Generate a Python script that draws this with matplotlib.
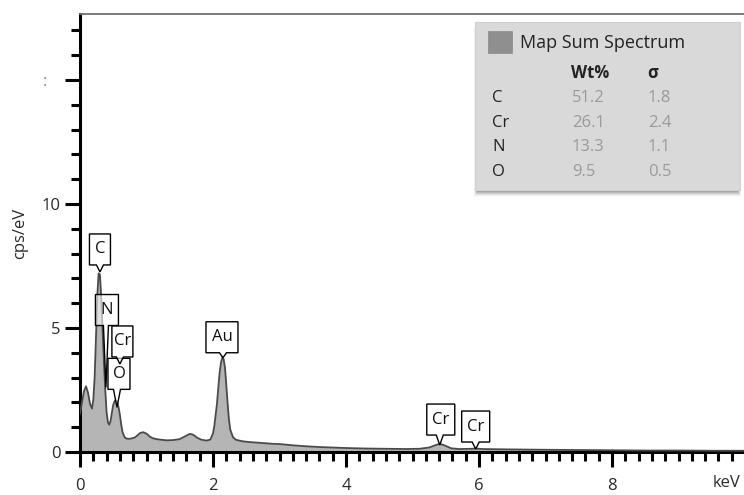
import matplotlib
matplotlib.use("Agg")
import matplotlib.pyplot as plt
from matplotlib.patches import Polygon, Rectangle
import numpy as np

plt.rcParams['font.family'] = ['Open Sans', 'DejaVu Sans']

# ---- spectrum ----
energy_keV = [0.00, 0.03, 0.06, 0.09, 0.12, 0.15, 0.18, 0.20, 0.22, 0.24, 0.26, 0.28, 0.30,
              0.32, 0.34, 0.36, 0.38, 0.40, 0.42, 0.44, 0.46, 0.48, 0.50, 0.52, 0.54, 0.56,
              0.58, 0.60, 0.62, 0.64, 0.67, 0.70, 0.74, 0.78, 0.82, 0.86, 0.90, 0.95, 1.00,
              1.05, 1.10, 1.15, 1.20, 1.30, 1.40, 1.50, 1.58, 1.65, 1.70, 1.76, 1.82, 1.90,
              1.96, 2.00, 2.02, 2.04, 2.06, 2.08, 2.10, 2.12, 2.14, 2.16, 2.18, 2.20, 2.22,
              2.24, 2.26, 2.30, 2.34, 2.38, 2.45, 2.55, 2.65, 2.75, 2.90, 3.00, 3.20, 3.40,
              3.60, 3.80, 4.00, 4.30, 4.60, 4.90, 5.10, 5.25, 5.35, 5.41, 5.48, 5.58, 5.70,
              5.90, 5.95, 6.05, 6.30, 6.60, 7.00, 7.50, 8.00, 8.50, 9.00, 9.50, 10.00]
cps_per_eV = [1.55, 2.00, 2.45, 2.65, 2.40, 1.95, 1.75, 2.10, 3.00, 4.60, 6.30, 7.20, 7.15,
              6.20, 4.90, 3.60, 2.50, 1.60, 1.20, 1.10, 1.25, 1.60, 1.90, 2.05, 2.10, 2.00,
              1.80, 1.50, 1.10, 0.80, 0.60, 0.54, 0.53, 0.55, 0.58, 0.66, 0.76, 0.80, 0.74,
              0.62, 0.55, 0.52, 0.50, 0.47, 0.48, 0.52, 0.63, 0.73, 0.70, 0.58, 0.50, 0.46,
              0.50, 0.75, 1.05, 1.50, 1.95, 2.60, 3.20, 3.60, 3.80, 3.75, 3.40, 2.70, 1.95,
              1.30, 0.90, 0.60, 0.50, 0.47, 0.43, 0.40, 0.38, 0.36, 0.33, 0.32, 0.27, 0.23,
              0.20, 0.18, 0.16, 0.14, 0.13, 0.12, 0.13, 0.18, 0.28, 0.33, 0.27, 0.15, 0.12,
              0.13, 0.14, 0.12, 0.11, 0.10, 0.09, 0.08, 0.07, 0.06, 0.06, 0.05, 0.05]

# peak labels
label_text = ['N', 'O', 'Cr', 'C', 'Au', 'Cr', 'Cr']
label_keV = [0.39, 0.556, 0.60, 0.30, 2.15, 5.41, 5.95]
label_cps = [2.6, 1.8, 3.55, 7.26, 3.8, 0.28, 0.12]

# quantification table
elements = ['C', 'Cr', 'N', 'O']
wt_pct = ['51.2', '26.1', '13.3', '9.5']
sigma = ['1.8', '2.4', '1.1', '0.5']

x_ticks = [0, 2, 4, 6, 8]
y_ticks = [0, 5, 10, 15]
y_ticklabels = ['0', '5', '10', ':   ']

W, H = 744, 495
fig = plt.figure(figsize=(W / 100, H / 100), dpi=100)
ax = fig.add_axes([80 / W, (H - 452) / H, (W - 80) / W, (452 - 14) / H])
ax.set_xlim(0, (W - 80) / 66.5)
ax.set_ylim(0, (452 - 14) / 24.8)

ax.fill_between(energy_keV, cps_per_eV, 0, color='#b5b5b5', lw=0, zorder=2)
ax.plot(energy_keV, cps_per_eV, color='#4a4a4a', lw=1.3, zorder=3)

ax.spines['right'].set_visible(False)
ax.spines['top'].set_color('#6f6f6f')
ax.spines['top'].set_linewidth(1.3)
for s in ['left', 'bottom']:
    ax.spines[s].set_linewidth(2.2)
    ax.spines[s].set_color('black')

ax.set_xticks(x_ticks)
ax.set_xticks(np.arange(0, 10.0, 0.2), minor=True)
ax.set_yticks(y_ticks)
ax.set_yticklabels(y_ticklabels)
ax.set_yticks(np.arange(0, 18, 1), minor=True)
ax.tick_params(which='major', length=11, width=2.2, color='black', labelsize=12,
               labelcolor='#2a2a2a', direction='out')
ax.tick_params(which='minor', length=6.5, width=2.2, color='black', direction='out')
ax.tick_params(axis='x', pad=8)
ax.tick_params(axis='y', pad=3)
ax.get_yticklabels()[-1].set_color('#888888')
ax.set_ylabel('cps/eV', fontsize=12, color='#2a2a2a', labelpad=10)
fig.text(727 / W, 1 - 483 / H, 'keV', fontsize=12, color='#2a2a2a', ha='center', va='center')

# ---- callouts ----
dx_px = [1, 2, 2.5, 0, -1, 1, 0]
lift_px = [62, 18, 7, 7, 5, 10, 7]
w_px = [23, 22, 21, 21, 32, 28, 28]
h_px = 31
fig.canvas.draw()
for t, xk, yc, dx, lift, w in zip(label_text, label_keV, label_cps, dx_px, lift_px, w_px):
    tx, ty = ax.transData.transform((xk, yc))
    bottom = ty + lift
    top = bottom + h_px
    cx = tx + dx
    left, right = cx - w / 2, cx + w / 2
    hw = 3.5 if lift < 20 else 2.5
    pts = [(left, bottom), (tx - hw, bottom), (tx, ty), (tx + hw, bottom), (right, bottom),
           (right, top), (left, top)]
    fpts = [(px / W, py / H) for px, py in pts]
    fig.patches.append(Polygon(fpts, closed=True, transform=fig.transFigure,
                               facecolor=(1, 1, 1, 0.6), edgecolor='black', lw=1.0, zorder=5))
    fig.text(cx / W, (bottom + h_px / 2) / H, t, fontsize=12, color='#111111',
             ha='center', va='center', zorder=6)

# ---- legend / quant table ----
bx0, by0, bx1, by1 = 475, 22, 740, 190
for i, a in enumerate([0.12, 0.11, 0.10, 0.08, 0.06, 0.04, 0.02]):
    off = i + 1
    fig.patches.append(Rectangle(((bx0 + 3 - off * 0.6) / W, 1 - (by1 + off) / H),
                                 (bx1 - bx0 - 6 + off * 1.2) / W, (by1 - by0) / H,
                                 transform=fig.transFigure, facecolor='black',
                                 alpha=a, lw=0, zorder=7))
fig.patches.append(Rectangle((bx0 / W, 1 - by1 / H), (bx1 - bx0) / W, (by1 - by0) / H,
                             transform=fig.transFigure, facecolor='#d9d9d9',
                             edgecolor='#d0d0d0', lw=0.8, zorder=8))
fig.patches.append(Rectangle((488 / W, 1 - 53 / H), 24 / W, 22 / H, transform=fig.transFigure,
                             facecolor='#8f8f8f', edgecolor='#8a8a8a', lw=0.5, zorder=9))
fig.text(520 / W, 1 - 43 / H, 'Map Sum Spectrum', fontsize=13, color='#222222',
         ha='left', va='center', zorder=10)
fig.text(571 / W, 1 - 73 / H, 'Wt%', fontsize=12, fontweight='bold', color='#222222',
         ha='left', va='center', zorder=10)
fig.text(647 / W, 1 - 73 / H, 'σ', fontsize=12, fontweight='bold', color='#222222',
         ha='left', va='center', zorder=10)
for i, (el, wv, sv) in enumerate(zip(elements, wt_pct, sigma)):
    yy = 98 + i * 24.7
    fig.text(492 / W, 1 - yy / H, el, fontsize=12, color='#222222', ha='left', va='center', zorder=10)
    fig.text(572 / W, 1 - yy / H, wv, fontsize=12, color='#9a9a9a', ha='left', va='center', zorder=10)
    fig.text(648 / W, 1 - yy / H, sv, fontsize=12, color='#9a9a9a', ha='left', va='center', zorder=10)

fig.savefig('out.png', dpi=100)
